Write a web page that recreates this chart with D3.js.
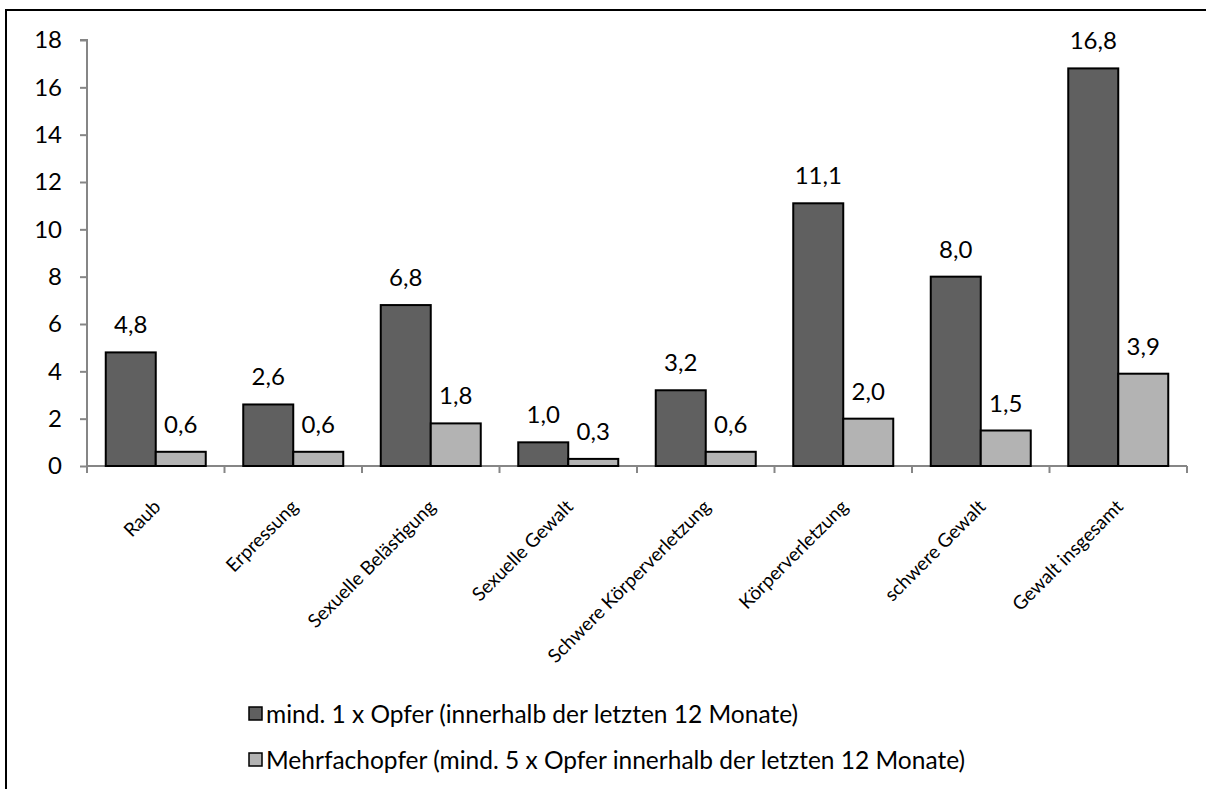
<!DOCTYPE html>
<html><head><meta charset="utf-8">
<script src="https://cdn.jsdelivr.net/npm/d3@7"></script>
<style>
html,body{margin:0;padding:0;background:#fff;}
svg{display:block;font-family:Lato,"Liberation Sans",sans-serif;}
</style></head>
<body>
<svg id="chart" width="1206" height="789"></svg>
<script>
const categories = ["Raub","Erpressung","Sexuelle Belästigung","Sexuelle Gewalt","Schwere Körperverletzung","Körperverletzung","schwere Gewalt","Gewalt insgesamt"];
const seriesNames = ["mind. 1 x Opfer (innerhalb der letzten 12 Monate)","Mehrfachopfer (mind. 5 x Opfer innerhalb der letzten 12 Monate)"];
const einmalOpfer = [4.8,2.6,6.8,1.0,3.2,11.1,8.0,16.8];
const mehrfachOpfer = [0.6,0.6,1.8,0.3,0.6,2.0,1.5,3.9];
const yTicks = [0,2,4,6,8,10,12,14,16,18];
const colors = ["#606060","#b3b3b3"];

const svg = d3.select("#chart");
// outer border
svg.append("rect").attr("x",6).attr("y",10).attr("width",1215).attr("height",800)
  .attr("fill","none").attr("stroke","#000").attr("stroke-width",2);

const x0 = d3.scaleBand().domain(categories).range([87,1187]).paddingInner(0).paddingOuter(0);
const x1 = d3.scaleBand().domain([0,1]).range([0,x0.bandwidth()]).paddingInner(0).paddingOuter(0.375);
const y = d3.scaleLinear().domain([0,18]).range([466,40]);

const data = categories.map((c,i)=>({c, vals:[einmalOpfer[i],mehrfachOpfer[i]]}));

// y axis
const yAxis = svg.append("g").attr("transform","translate(87,0)")
  .call(d3.axisLeft(y).tickValues(yTicks).tickSize(7).tickPadding(18).tickFormat(d3.format("d")));
yAxis.select(".domain").attr("stroke","#868686").attr("stroke-width",2).attr("d","M-7,"+y(18)+"H0V"+y(0));
yAxis.selectAll(".tick line").attr("stroke","#868686").attr("stroke-width",2);
yAxis.selectAll(".tick text").attr("font-size",24).attr("fill","#000").attr("font-family","Lato");

// x axis
const xAxis = svg.append("g").attr("transform","translate(0,466)");
xAxis.append("line").attr("x1",87).attr("x2",1187).attr("y1",0).attr("y2",0).attr("stroke","#868686").attr("stroke-width",2);
const bounds = categories.map(c=>x0(c)).concat([x0.range()[1]]);
xAxis.selectAll("line.tk").data(bounds).join("line").attr("class","tk")
  .attr("x1",d=>d).attr("x2",d=>d).attr("y1",0).attr("y2",7).attr("stroke","#868686").attr("stroke-width",2);

// bars
const groups = svg.append("g").selectAll("g").data(data).join("g")
  .attr("transform",d=>`translate(${x0(d.c)},0)`);
groups.selectAll("rect").data(d=>d.vals.map((v,k)=>({v,k}))).join("rect")
  .attr("x",d=>x1(d.k)).attr("width",x1.bandwidth())
  .attr("y",d=>y(d.v)).attr("height",d=>y(0)-y(d.v))
  .attr("fill",d=>colors[d.k]).attr("stroke","#000").attr("stroke-width",2);
groups.selectAll("text").data(d=>d.vals.map((v,k)=>({v,k}))).join("text")
  .attr("x",d=>x1(d.k)+x1.bandwidth()/2).attr("y",d=>y(d.v)-19)
  .attr("text-anchor","middle").attr("font-size",24).attr("fill","#000")
  .text(d=>d.v.toFixed(1).replace(".",","));

// category labels
svg.append("g").selectAll("text").data(categories).join("text")
  .attr("transform",c=>`translate(${x0(c)+x0.bandwidth()/2+6},508) rotate(-45)`)
  .attr("text-anchor","end").attr("font-size",19).attr("fill","#000")
  .text(c=>c);

// legend
const leg = svg.append("g").selectAll("g").data(seriesNames).join("g")
  .attr("transform",(d,i)=>`translate(249,${707+i*46})`);
leg.append("rect").attr("width",13).attr("height",13).attr("fill",(d,i)=>colors[i]).attr("stroke","#000").attr("stroke-width",1.5);
leg.append("text").attr("x",17).attr("y",7).attr("dy","0.35em").attr("font-size",24.5).attr("fill","#000").text(d=>d);
</script>
</body></html>
